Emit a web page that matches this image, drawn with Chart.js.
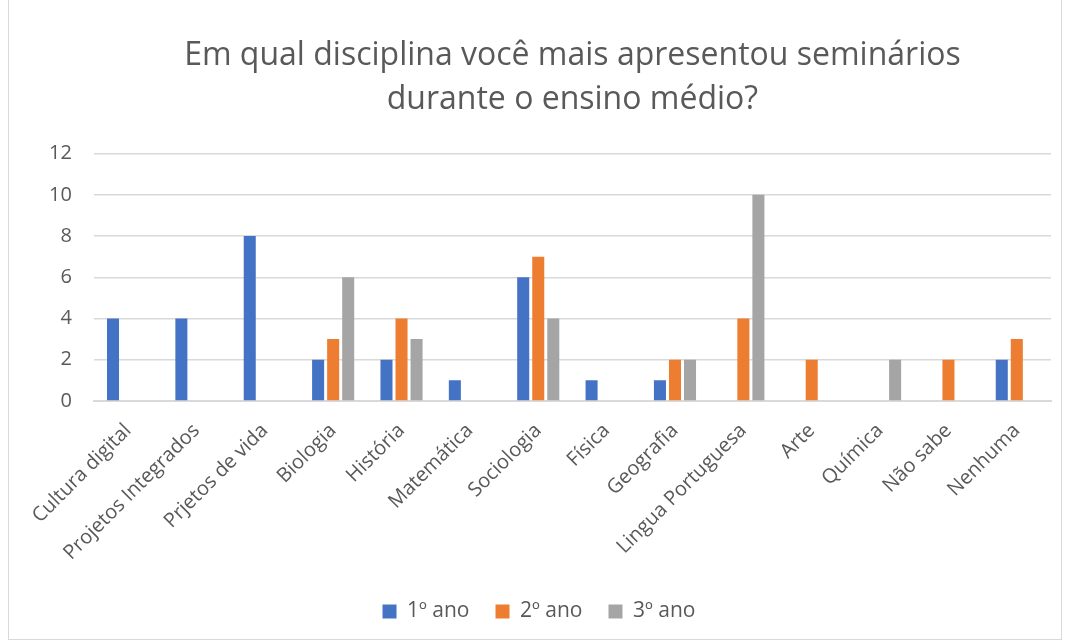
<!DOCTYPE html>
<html>
<head>
<meta charset="utf-8">
<script src="https://cdn.jsdelivr.net/npm/chart.js@4"></script>
<style>
  html, body { margin: 0; padding: 0; background: #fff; }
  #wrap {
    position: absolute; left: 8px; top: 0; width: 1054px; height: 640px;
    border: 1px solid #d9d9d9; border-top: none; box-sizing: border-box;
  }
  canvas { display: block; }
</style>
</head>
<body>
<div id="wrap"><canvas id="seminarChart"></canvas></div>
<script>
// Disciplinas (eixo X)
const categories = [
    'Cultura digital', 'Projetos Integrados', 'Prjetos de vida', 'Biologia',
    'História', 'Matemática', 'Sociologia', 'Física', 'Geografia',
    'Lingua Portuguesa', 'Arte', 'Química', 'Não sabe', 'Nenhuma'
];
const seriesNames = ['1º ano', '2º ano', '3º ano'];
const ano1 = [4, 4, 8, 2, 2, 1, 6, 1, 1, 0, 0, 0, 0, 2];
const ano2 = [0, 0, 0, 3, 4, 0, 7, 0, 2, 4, 2, 0, 2, 3];
const ano3 = [0, 0, 0, 6, 3, 0, 4, 0, 2, 10, 0, 2, 0, 0];
const seriesColors = ['#4472c4', '#ed7d31', '#a5a5a5'];
const yTicks = [0, 2, 4, 6, 8, 10, 12];

const canvas = document.getElementById('seminarChart');
canvas.width = 1052;
canvas.height = 640;

const ctx = canvas.getContext('2d');
const fontFamily = '"Open Sans", "Noto Sans", sans-serif';

const config = {
    type: 'bar',
    data: {
        labels: categories,
        datasets: [ano1, ano2, ano3].map((values, i) => ({
            label: seriesNames[i],
            data: values,
            backgroundColor: seriesColors[i],
            borderWidth: 0,
            categoryPercentage: 0.66,
            barPercentage: 0.8
        }))
    },
    options: {
        responsive: false,
        animation: false,
        layout: {
            padding: { left: 18, right: 10, top: 33, bottom: 8 }
        },
        plugins: {
            title: {
                display: true,
                fullSize: false,
                text: ['Em qual disciplina você mais apresentou seminários', 'durante o ensino médio?'],
                color: '#595959',
                font: { family: fontFamily, size: 32, weight: 'normal', lineHeight: 1.4 },
                padding: { top: 0, bottom: 31 }
            },
            legend: {
                position: 'bottom',
                labels: {
                    color: '#595959',
                    font: { family: fontFamily, size: 21 },
                    boxWidth: 14,
                    boxHeight: 14,
                    padding: 26
                }
            },
            tooltip: { enabled: false }
        },
        scales: {
            x: {
                grid: { display: false },
                border: { display: true, color: '#d9d9d9', width: 2 },
                ticks: {
                    color: '#595959',
                    font: { family: fontFamily, size: 20 },
                    minRotation: 45,
                    maxRotation: 45,
                    autoSkip: false,
                    padding: 10
                }
            },
            y: {
                min: 0,
                max: yTicks[yTicks.length - 1],
                afterBuildTicks: axis => { axis.ticks = yTicks.map(v => ({ value: v })); },
                grid: { color: '#d9d9d9', lineWidth: 1.5, drawTicks: false },
                border: { display: false },
                ticks: {
                    color: '#595959',
                    font: { family: fontFamily, size: 20 },
                    padding: 22
                }
            }
        }
    }
};

new Chart(ctx, config);
</script>
</body>
</html>
